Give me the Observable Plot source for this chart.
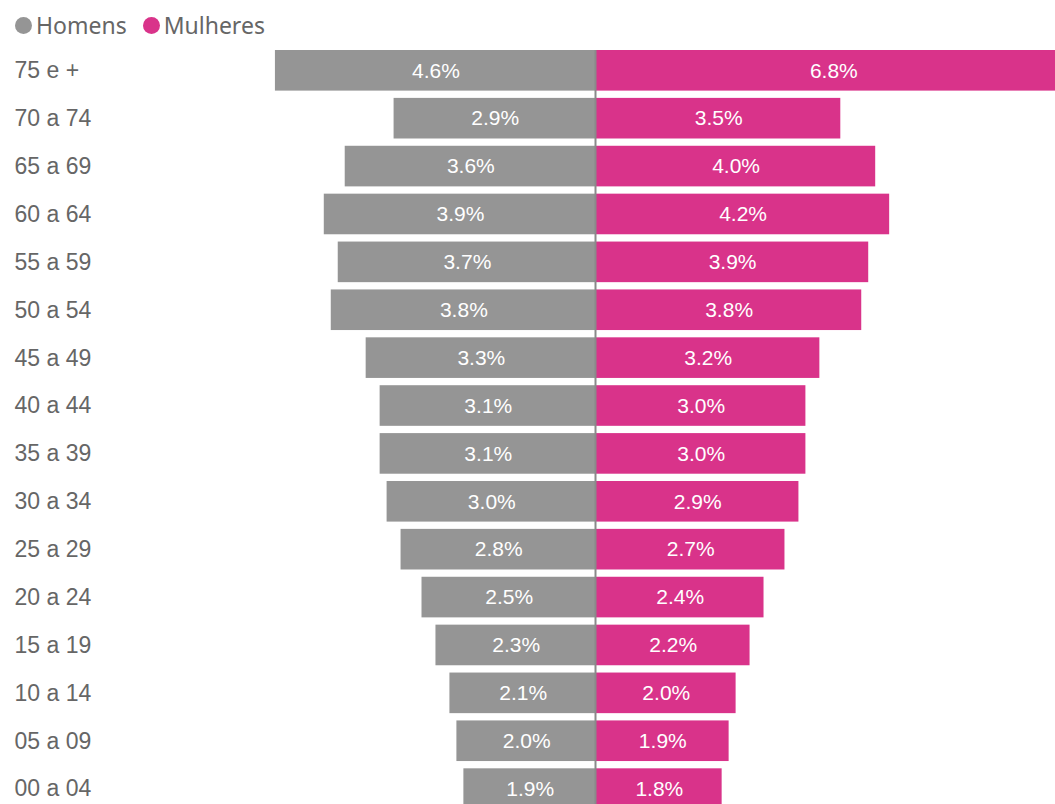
<!DOCTYPE html>
<html><head><meta charset="utf-8">
<script src="https://cdn.jsdelivr.net/npm/d3@7"></script>
<script src="https://cdn.jsdelivr.net/npm/@observablehq/plot@0.6"></script>
<style>
html,body{margin:0;padding:0;background:#fff;overflow:hidden;width:1055px;height:804px}
#legend{height:40px;display:flex;align-items:center;padding-left:15px;padding-top:10px;box-sizing:border-box;font-family:"Noto Sans",sans-serif;font-size:23px;color:#666}
.item{display:flex;align-items:center;margin-right:16px}
.sw{width:17px;height:17px;border-radius:50%;margin-right:4px}
#chart svg{overflow:hidden;display:block}
</style></head><body>
<div id="legend"></div><div id="chart"></div>
<script>
const ages = ["75 e +","70 a 74","65 a 69","60 a 64","55 a 59","50 a 54","45 a 49","40 a 44","35 a 39","30 a 34","25 a 29","20 a 24","15 a 19","10 a 14","05 a 09","00 a 04"];
const homens = [4.6,2.9,3.6,3.9,3.7,3.8,3.3,3.1,3.1,3.0,2.8,2.5,2.3,2.1,2.0,1.9];
const mulheres = [6.8,3.5,4.0,4.2,3.9,3.8,3.2,3.0,3.0,2.9,2.7,2.4,2.2,2.0,1.9,1.8];
const series = ["Homens","Mulheres"];
const colors = ["#959595","#d9338a"];

const rows = ages.flatMap((a, i) => [
  {age: a, sex: series[0], v: homens[i], x1: -homens[i], x2: 0},
  {age: a, sex: series[1], v: mulheres[i], x1: 0, x2: mulheres[i]}
]);

const legend = document.getElementById("legend");
series.forEach((s, i) => {
  const it = document.createElement("div");
  it.className = "item";
  const sw = document.createElement("span");
  sw.className = "sw";
  sw.style.background = colors[i];
  const t = document.createElement("span");
  t.textContent = s;
  it.appendChild(sw); it.appendChild(t);
  legend.appendChild(it);
});

const chart = Plot.plot({
  width: 1055,
  height: 764,
  marginLeft: 14,
  marginTop: 10,
  marginBottom: 0,
  marginRight: 0,
  style: {fontFamily: "'Liberation Sans', Arial, sans-serif", color: "#666", background: "#fff"},
  x: {domain: [-7, 7], range: [107.4, 1084.6], axis: null},
  y: {domain: ages, range: [2.72, 776.2], paddingInner: 0.152, paddingOuter: 0.152, round: false},
  color: {domain: series, range: colors},
  marks: [
    Plot.barX(rows, {x1: "x1", x2: "x2", y: "age", fill: "sex"}),
    Plot.ruleX([0], {stroke: "#8a8a8a", strokeWidth: 2, dx: -1}),
    Plot.text(rows, {x: d => (d.x1 + d.x2) / 2, y: "age", text: d => d.v.toFixed(1) + "%", fill: "#fff", fontSize: 21}),
    Plot.axisY({tickSize: 0, tickPadding: 0, textAnchor: "start", fontSize: 23, label: null})
  ]
});
document.getElementById("chart").appendChild(chart);
</script>
</body></html>
